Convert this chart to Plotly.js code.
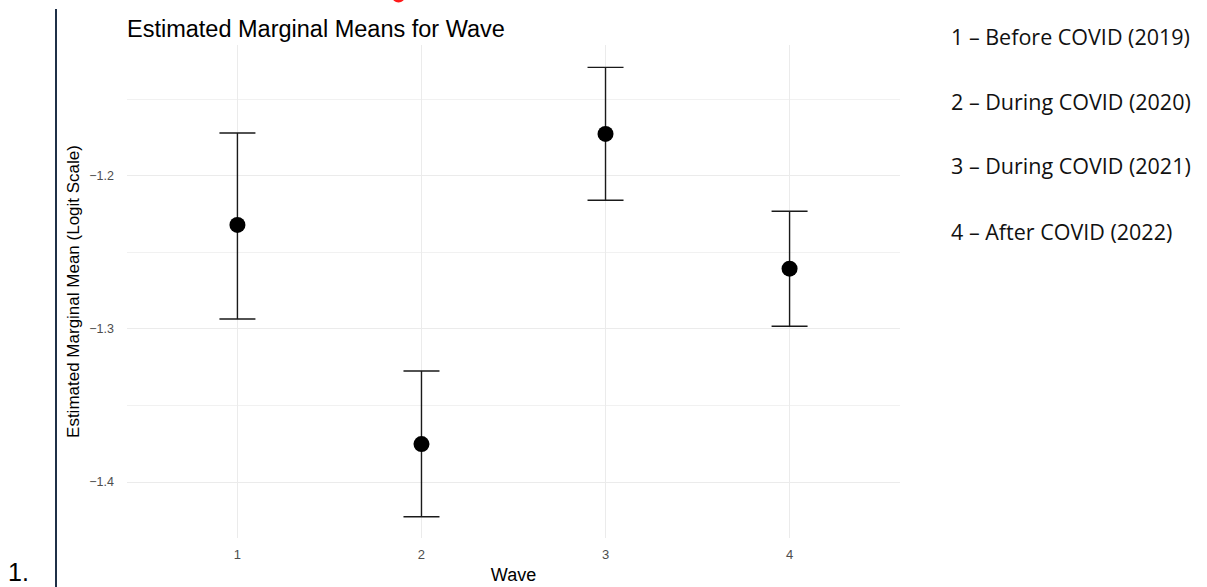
<!DOCTYPE html>
<html>
<head>
<meta charset="utf-8">
<script src="https://cdn.plot.ly/plotly-3.0.1.min.js"></script>
<style>
  html, body { margin: 0; padding: 0; background: #ffffff; }
  #chart { width: 1207px; height: 587px; }
</style>
</head>
<body>
<div id="chart"></div>
<script>
// ---- data ----
const waves = [1, 2, 3, 4];
const emmeans = [-1.2320, -1.3752, -1.1725, -1.2606];
const lowerCL = [-1.2935, -1.4227, -1.2159, -1.2982];
const upperCL = [-1.1719, -1.3275, -1.1290, -1.2231];
const waveTickLabels = ['1', '2', '3', '4'];
const waveDescriptions = [
  '1 \u2013 Before COVID (2019)',
  '2 \u2013 During COVID (2020)',
  '3 \u2013 During COVID (2021)',
  '4 \u2013 After COVID (2022)'
];

const errPlus = emmeans.map((m, i) => upperCL[i] - m);
const errMinus = emmeans.map((m, i) => m - lowerCL[i]);

const plotL = 127, plotR = 900, plotT = 45, plotB = 538, W = 1207, H = 587;
const px = x => (x - plotL) / (plotR - plotL);
const py = y => (plotB - y) / (plotB - plotT);

const trace = {
  type: 'scatter',
  mode: 'markers',
  x: waves,
  y: emmeans,
  marker: { color: '#000000', size: 16 },
  error_y: {
    type: 'data',
    symmetric: false,
    array: errPlus,
    arrayminus: errMinus,
    color: '#1a1a1a',
    thickness: 1.4,
    width: 18
  },
  hoverinfo: 'x+y'
};

const legendY = [37, 101, 165, 231];
const annotations = waveDescriptions.map((t, i) => ({
  text: t,
  xref: 'paper', yref: 'paper',
  x: px(949), y: py(legendY[i]),
  xanchor: 'left', yanchor: 'middle',
  showarrow: false,
  font: { family: 'Open Sans, sans-serif', size: 21.5, color: '#111111' }
}));
annotations.push({
  text: '1.',
  xref: 'paper', yref: 'paper',
  x: px(6), y: py(572),
  xanchor: 'left', yanchor: 'middle',
  showarrow: false,
  font: { family: 'Liberation Sans, Arial, sans-serif', size: 25, color: '#000000' }
});

const layout = {
  width: W, height: H,
  paper_bgcolor: '#ffffff',
  plot_bgcolor: '#ffffff',
  margin: { l: plotL, r: W - plotR, t: plotT, b: H - plotB, pad: 0 },
  showlegend: false,
  font: { family: 'Liberation Sans, Arial, sans-serif', color: '#000000' },
  title: {
    text: 'Estimated Marginal Means for Wave',
    font: { family: 'Liberation Sans, Arial, sans-serif', size: 23.5, color: '#000000' },
    xref: 'paper', x: 0, xanchor: 'left',
    yref: 'container', y: 1 - 29 / H, yanchor: 'middle'
  },
  xaxis: {
    range: [0.4, 4.6],
    tickmode: 'array',
    tickvals: waves,
    ticktext: waveTickLabels,
    showgrid: true,
    gridcolor: '#ebebeb',
    gridwidth: 1,
    zeroline: false,
    showline: false,
    ticks: '',
    ticklabelstandoff: 7,
    tickfont: { family: 'Liberation Sans, Arial, sans-serif', size: 13, color: '#4d4d4d' },
    title: {
      text: 'Wave',
      font: { family: 'Liberation Sans, Arial, sans-serif', size: 18, color: '#000000' },
      standoff: 7
    }
  },
  yaxis: {
    range: [-1.4366, -1.1144],
    tick0: -1.2,
    dtick: 0.1,
    tickformat: '.1f',
    showgrid: true,
    gridcolor: '#ebebeb',
    gridwidth: 1,
    minor: { dtick: 0.05, tick0: -1.2, showgrid: true, gridcolor: '#f1f1f1', gridwidth: 1, ticks: '' },
    zeroline: false,
    showline: false,
    ticks: '',
    ticklabelstandoff: 12,
    tickfont: { family: 'Liberation Sans, Arial, sans-serif', size: 12.5, color: '#4d4d4d' },
    title: {
      text: 'Estimated Marginal Mean (Logit Scale)',
      font: { family: 'Liberation Sans, Arial, sans-serif', size: 17, color: '#000000' },
      standoff: 5
    }
  },
  shapes: [
    {
      type: 'line', xref: 'paper', yref: 'paper',
      x0: px(56), x1: px(56), y0: py(9), y1: py(592),
      line: { color: '#1f3047', width: 2 }
    },
    {
      type: 'circle', xref: 'paper', yref: 'paper',
      x0: px(392), x1: px(405), y0: py(-10), y1: py(2.5),
      fillcolor: '#ff1a1a', line: { width: 0 }
    }
  ],
  annotations: annotations
};

Plotly.newPlot('chart', [trace], layout, { displayModeBar: false, staticPlot: true });
</script>
</body>
</html>
